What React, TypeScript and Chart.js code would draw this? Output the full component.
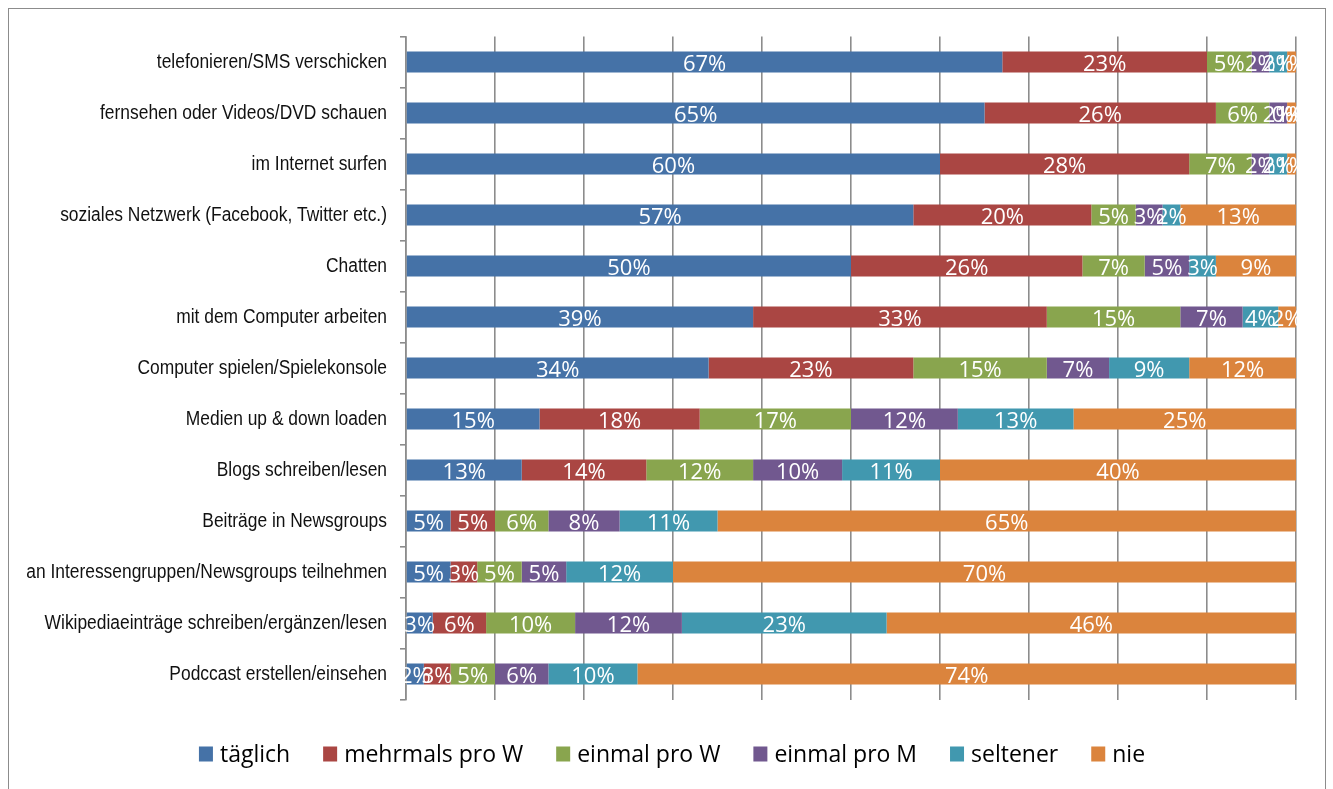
import { useEffect, useRef } from "react";
import { Chart, registerables } from "chart.js";

Chart.register(...registerables);

// Activities (category axis, top to bottom)
const categories = [
  "telefonieren/SMS verschicken",
  "fernsehen oder Videos/DVD schauen",
  "im Internet surfen",
  "soziales Netzwerk (Facebook, Twitter etc.)",
  "Chatten",
  "mit dem Computer arbeiten",
  "Computer spielen/Spielekonsole",
  "Medien up & down loaden",
  "Blogs schreiben/lesen",
  "Beiträge in Newsgroups",
  "an Interessengruppen/Newsgroups teilnehmen",
  "Wikipediaeinträge schreiben/ergänzen/lesen",
  "Podccast erstellen/einsehen",
];

const seriesNames = ["täglich", "mehrmals pro W", "einmal pro W", "einmal pro M", "seltener", "nie"];

// Share of respondents per frequency, in percent
const taeglich = [67, 65, 60, 57, 50, 39, 34, 15, 13, 5, 5, 3, 2];
const mehrmalsProW = [23, 26, 28, 20, 26, 33, 23, 18, 14, 5, 3, 6, 3];
const einmalProW = [5, 6, 7, 5, 7, 15, 15, 17, 12, 6, 5, 10, 5];
const einmalProM = [2, 2, 2, 3, 5, 7, 7, 12, 10, 8, 5, 12, 6];
const seltener = [2, 0, 2, 2, 3, 4, 9, 13, 11, 11, 12, 23, 10];
const nie = [1, 1, 1, 13, 9, 2, 12, 25, 40, 65, 70, 46, 74];

const seriesColors = ["#4572A7", "#AA4643", "#89A54E", "#71588F", "#4198AF", "#DB843D"];

const AXIS_GREY = "#8c8c8c";
const LABEL_FONT = "'Open Sans', 'Noto Sans', sans-serif";
const CATEGORY_FONT = "20px 'Liberation Sans', Arial, sans-serif";

// Narrow category labels, right-aligned next to the tick marks
const narrowCategoryLabels = {
  id: "narrowCategoryLabels",
  afterDraw(chart: any) {
    const ctx = chart.ctx;
    const yScale = chart.scales.y;
    const right = yScale.right - 6 - 13;
    ctx.save();
    ctx.font = CATEGORY_FONT;
    ctx.fillStyle = "#111111";
    ctx.textAlign = "right";
    ctx.textBaseline = "middle";
    (chart.data.labels as string[]).forEach((label, i) => {
      const y = yScale.getPixelForTick(i);
      ctx.save();
      ctx.translate(right, y);
      ctx.scale(0.87, 1);
      ctx.fillText(label, 0, 0);
      ctx.restore();
    });
    ctx.restore();
  },
};

// White percentage labels centred in every bar segment
const segmentLabels = {
  id: "segmentLabels",
  afterDatasetsDraw(chart: any) {
    const ctx = chart.ctx;
    ctx.save();
    ctx.font = `22px ${LABEL_FONT}`;
    ctx.fillStyle = "#ffffff";
    ctx.textAlign = "center";
    ctx.textBaseline = "middle";
    chart.data.datasets.forEach((ds: any, di: number) => {
      const meta = chart.getDatasetMeta(di);
      meta.data.forEach((bar: any, i: number) => {
        const { x, y, base } = bar.getProps(["x", "y", "base"], true);
        const cx = (x + base) / 2;
        ctx.fillText(`${ds.data[i]}%`, cx, y + 3);
      });
    });
    ctx.restore();
  },
};

// Legend row under the plot
const bottomLegend = {
  id: "bottomLegend",
  afterDraw(chart: any) {
    const ctx = chart.ctx;
    const boxW = 14;
    const boxH = 15;
    const textGap = 7;
    const itemGap = 33;
    const centerX = 672;
    const centerY = 754;
    ctx.save();
    ctx.font = `23px ${LABEL_FONT}`;
    ctx.textBaseline = "middle";
    ctx.textAlign = "left";
    const items = chart.data.datasets.map((ds: any) => ({
      label: ds.label as string,
      color: ds.backgroundColor as string,
      w: ctx.measureText(ds.label).width,
    }));
    const total =
      items.reduce((s: number, it: any) => s + boxW + textGap + it.w, 0) + itemGap * (items.length - 1);
    let x = centerX - total / 2;
    items.forEach((it: any) => {
      ctx.fillStyle = it.color;
      ctx.fillRect(x, centerY - boxH / 2, boxW, boxH);
      ctx.fillStyle = "#000000";
      ctx.fillText(it.label, x + boxW + textGap, centerY + 1);
      x += boxW + textGap + it.w + itemGap;
    });
    ctx.restore();
  },
};

export default function App() {
  const canvasRef = useRef<HTMLCanvasElement | null>(null);

  useEffect(() => {
    const canvas = canvasRef.current;
    if (!canvas) return;
    const values = [taeglich, mehrmalsProW, einmalProW, einmalProM, seltener, nie];
    const chart = new Chart(canvas, {
      type: "bar",
      data: {
        labels: categories,
        datasets: seriesNames.map((name, i) => ({
          label: name,
          data: values[i],
          backgroundColor: seriesColors[i],
          borderWidth: 0,
          barPercentage: 0.41,
          categoryPercentage: 1,
        })),
      },
      options: {
        indexAxis: "y",
        responsive: false,
        animation: false,
        devicePixelRatio: 1,
        layout: { padding: { left: 0, right: 37, top: 36.5, bottom: 89.5 } },
        plugins: {
          legend: { display: false },
          tooltip: { enabled: false },
        },
        scales: {
          x: {
            stacked: true,
            min: 0,
            max: 100,
            ticks: { display: false, stepSize: 10 },
            grid: { color: AXIS_GREY, lineWidth: 1.6, drawTicks: false },
            border: { display: false },
            afterFit: (scale: any) => {
              scale.height = 0;
            },
          },
          y: {
            stacked: true,
            ticks: { display: false },
            grid: { drawOnChartArea: false, color: AXIS_GREY, lineWidth: 1.6, tickLength: 6, offset: true },
            border: { color: AXIS_GREY, width: 1.6 },
            afterFit: (scale: any) => {
              scale.width = 406;
            },
          },
        },
      },
      plugins: [segmentLabels, narrowCategoryLabels, bottomLegend],
    });
    return () => chart.destroy();
  }, []);

  return (
    <>
      <canvas
        ref={canvasRef}
        width={1333}
        height={789}
        style={{ position: "fixed", left: 0, top: 0, width: 1333, height: 789 }}
      />
      <div
        style={{
          position: "fixed",
          left: 8,
          top: 8,
          width: 1318,
          height: 800,
          boxSizing: "border-box",
          border: `1.5px solid ${AXIS_GREY}`,
          pointerEvents: "none",
        }}
      />
    </>
  );
}
